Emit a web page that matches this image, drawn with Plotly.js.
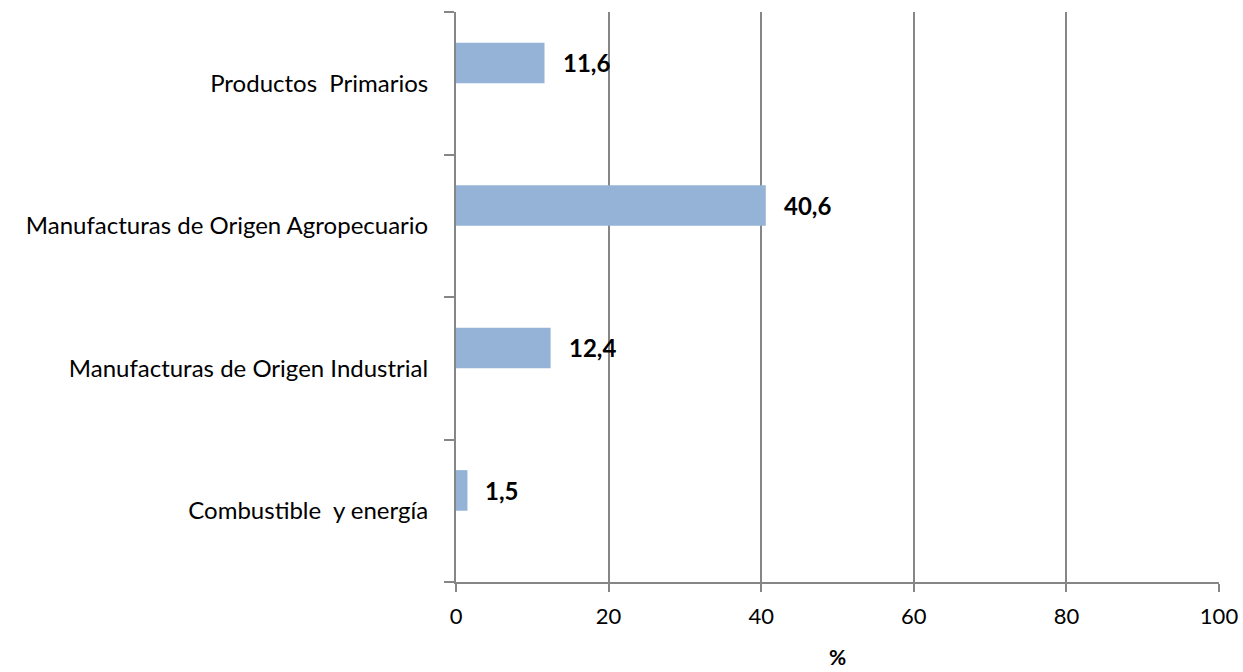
<!DOCTYPE html>
<html>
<head>
<meta charset="utf-8">
<script src="https://cdn.plot.ly/plotly-3.0.1.min.js"></script>
<style>html,body{margin:0;padding:0;background:#fff;}#chart{width:1243px;height:672px;}</style>
</head>
<body>
<div id="chart"></div>
<script>
// Categories, bottom to top
var categories = ["Combustible  y energía", "Manufacturas de Origen Industrial", "Manufacturas de Origen Agropecuario", "Productos  Primarios"];
var values = [1.5, 12.4, 40.6, 11.6];
var valueLabels = ["1,5", "12,4", "40,6", "11,6"];
var xTicks = [0, 20, 40, 60, 80, 100];
var xTitle = "%";

var FONT = "Lato, 'Open Sans', sans-serif";
var BARW = 0.285;

var trace = {
  type: "bar",
  orientation: "h",
  y: categories,
  x: values,
  width: BARW,
  offset: 0,
  marker: {color: "#95B3D7"},
  hoverinfo: "none"
};

var annotations = categories.map(function(c, i) {
  return {
    x: values[i], y: i + BARW / 2, xref: "x", yref: "y",
    text: valueLabels[i], showarrow: false,
    xanchor: "left", yanchor: "middle", xshift: 16,
    font: {family: FONT, size: 24, color: "#000", weight: 700}
  };
});

var layout = {
  width: 1243, height: 672,
  margin: {l: 456, r: 24, t: 12, b: 90},
  paper_bgcolor: "#fff", plot_bgcolor: "#fff",
  showlegend: false,
  font: {family: FONT, size: 22, color: "#000"},
  xaxis: {
    range: [0, 100], tickvals: xTicks, ticktext: xTicks.map(String),
    showgrid: true, gridcolor: "#868686", gridwidth: 2,
    zeroline: false, showline: true, linecolor: "#868686", linewidth: 2,
    ticks: "outside", ticklen: 8, tickcolor: "#868686", tickwidth: 2,
    ticklabelstandoff: 6,
    tickfont: {family: FONT, size: 22, color: "#000"},
    title: {text: xTitle, font: {family: FONT, size: 21, color: "#000", weight: 700}, standoff: 22}
  },
  yaxis: {
    type: "category", categoryorder: "array", categoryarray: categories,
    range: [-0.5, 3.5], tickson: "boundaries",
    showgrid: false, zeroline: false, showline: true, linecolor: "#868686", linewidth: 2,
    ticks: "outside", ticklen: 10, tickcolor: "#868686", tickwidth: 2,
    ticklabelstandoff: 21,
    tickfont: {family: FONT, size: 24, color: "#000"}
  },
  annotations: annotations
};

Plotly.newPlot("chart", [trace], layout, {displayModeBar: false, staticPlot: true});
</script>
</body>
</html>
